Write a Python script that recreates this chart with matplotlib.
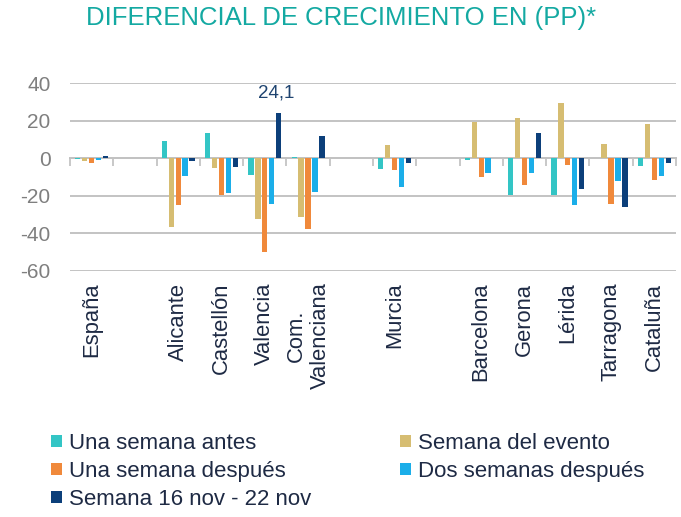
import matplotlib
matplotlib.use("Agg")
import matplotlib.pyplot as plt
import numpy as np

plt.rcParams['font.family'] = ['Liberation Sans', 'DejaVu Sans']

categories = ["España", "", "Alicante", "Castellón", "Valencia", "Com.\nValenciana",
              "", "Murcia", "", "Barcelona", "Gerona", "Lérida", "Tarragona", "Cataluña"]
series_names = ["Una semana antes", "Semana del evento", "Una semana después",
                "Dos semanas después", "Semana 16 nov - 22 nov"]
una_semana_antes   = [-0.2, np.nan, 9.4, 13.5, -8.9, 0.9, np.nan, -5.9, np.nan, -0.8, -19.7, -19.7, 0.0, -4.3]
semana_evento      = [-1.6, np.nan, -36.6, -5.2, -32.4, -31.6, np.nan, 7.1, np.nan, 19.2, 21.5, 29.5, 7.6, 18.5]
una_semana_despues = [-2.6, np.nan, -25.2, -19.6, -50.0, -37.9, np.nan, -6.4, np.nan, -10.0, -14.4, -3.7, -24.2, -11.7]
dos_semanas        = [-1.0, np.nan, -9.4, -18.7, -24.2, -18.0, np.nan, -15.1, np.nan, -7.8, -7.8, -25.2, -12.3, -9.2]
semana_nov         = [1.2, np.nan, -1.4, -4.8, 24.1, 11.7, np.nan, -2.5, np.nan, 0.0, 13.5, -16.2, -25.8, -2.5]
series = [una_semana_antes, semana_evento, una_semana_despues, dos_semanas, semana_nov]
colors = ["#33C5C5", "#D6BD72", "#F0893B", "#1BAEE9", "#0C3F7A"]
yticks = [-60, -40, -20, 0, 20, 40]

W, H = 681, 517
fig = plt.figure(figsize=(W / 100, H / 100), dpi=100)
ax = fig.add_axes([70 / W, 1 - 270.7 / H, 606 / W, (270.7 - 83.3) / H])

x = np.arange(len(categories))
spacing = 0.16
width = 0.125
bars = []
for i, (vals, c) in enumerate(zip(series, colors)):
    b = ax.bar(x + (i - 2) * spacing, vals, width=width, color=c, zorder=3, label=series_names[i])
    bars.append(b)

# data label for Valencia, last series
vi = categories.index("Valencia")
val = semana_nov[vi]
ax.annotate(f"{val:.1f}".replace('.', ','), xy=(x[vi] + 2 * spacing, val), xytext=(-2, 8),
            textcoords="offset points", ha="center", va="bottom", fontsize=13.5, color="#1F4470")

ax.set_xlim(-0.5, len(categories) - 0.5)
ax.set_ylim(-60, 40)
ax.set_yticks(yticks)
ax.set_yticklabels([str(t) for t in yticks], fontsize=15, color="#7F7F7F")
ax.tick_params(axis='y', length=0, pad=14)
ax.yaxis.grid(True, color="#C3C3C3", linewidth=1.4, zorder=0)
for s in ax.spines.values():
    s.set_visible(False)

ax.set_xticks(x)
ax.set_xticklabels(categories, rotation=90, fontsize=15.8, color="#1E2A44", ha="center", va="top",
                   multialignment="center")
ax.tick_params(axis='x', length=0, pad=8.5)

sec = ax.secondary_xaxis(0, transform=ax.transData)
sec.set_xticks(np.arange(len(categories) + 1) - 0.5)
sec.set_xticklabels([])
sec.tick_params(axis='x', length=6, width=1.2, color="#BFBFBF", direction="out")
sec.spines['bottom'].set_color("#BFBFBF")
sec.spines['bottom'].set_linewidth(1.4)

fig.text(86 / W, 1 - 18 / H, "DIFERENCIAL DE CRECIMIENTO EN (PP)*", fontsize=18.5,
         color="#14A9A2", ha="left", va="center")

order = [0, 2, 4, 1, 3]
leg = fig.legend([bars[k] for k in order], [series_names[k] for k in order], ncol=2,
                 loc="upper left", bbox_to_anchor=(51 / W, 1 - 433 / H), frameon=False,
                 fontsize=16, handlelength=0.5, handleheight=0.5, handletextpad=0.3,
                 columnspacing=4.0, labelspacing=0.31, borderaxespad=0, borderpad=0)
for t in leg.get_texts():
    t.set_color("#1E2A44")

fig.savefig("out.png", dpi=100)
